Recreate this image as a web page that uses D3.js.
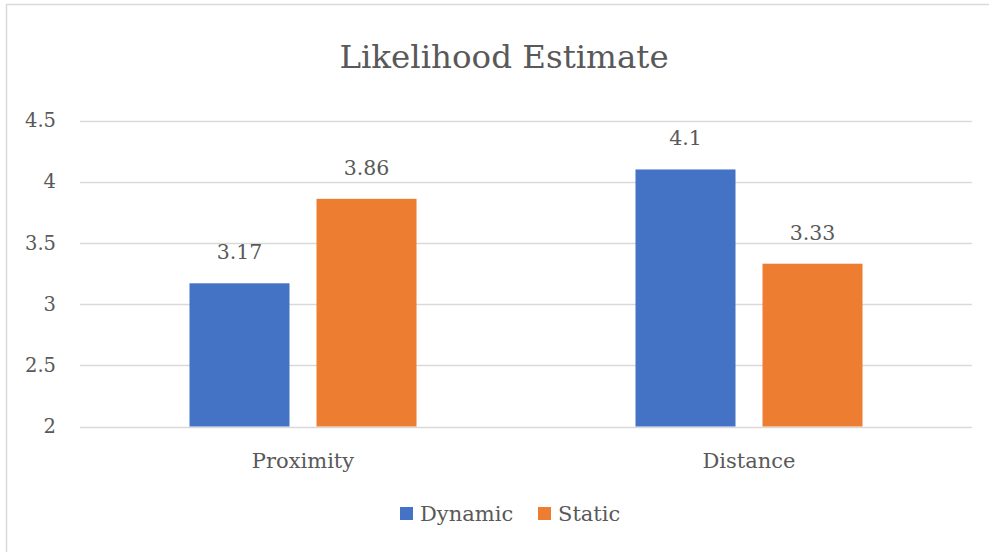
<!DOCTYPE html>
<html><head><meta charset="utf-8">
<script src="https://cdn.jsdelivr.net/npm/d3@7"></script>
<style>body{margin:0;background:#fff}svg{display:block}</style>
</head><body>
<svg id="c" width="989" height="552"></svg>
<script>
const categories = ["Proximity", "Distance"];
const seriesNames = ["Dynamic", "Static"];
const dynamicValues = [3.17, 4.1];
const staticValues = [3.86, 3.33];
const yTicks = [2, 2.5, 3, 3.5, 4, 4.5];
const colors = ["#4472C4", "#ED7D31"];
const title = "Likelihood Estimate";
const FONT = "'DejaVu Serif', serif";
const TXT = "#595959";

const svg = d3.select("#c");
svg.append("rect").attr("x", 6.5).attr("y", 4.5).attr("width", 1100).attr("height", 700)
  .attr("fill", "#fff").attr("stroke", "#D9D9D9").attr("stroke-width", 1.5);

const L = 80, R = 972, T = 120.5, B = 426.5;
const y = d3.scaleLinear().domain([2, 4.5]).range([B, T]);
const x0 = d3.scaleBand().domain(categories).range([L, R]).paddingInner(0.491).paddingOuter(0.2455);
const x1 = d3.scaleBand().domain(seriesNames).range([0, x0.bandwidth()]).paddingInner(0.2126).paddingOuter(0);

svg.append("text").attr("x", 504).attr("y", 68).attr("text-anchor", "middle")
  .style("font-family", FONT).style("fill", TXT).style("font-size", "32.5px").text(title);

const grid = svg.append("g");
grid.selectAll("line").data(yTicks).join("line")
  .attr("x1", L).attr("x2", R).attr("y1", d => Math.round(y(d)) + 0.5).attr("y2", d => Math.round(y(d)) + 0.5)
  .attr("stroke", "#D9D9D9").attr("stroke-width", 1.5);

const yAxis = d3.axisLeft(y).tickValues(yTicks).tickSize(0).tickPadding(0).tickFormat(d => String(d));
const ya = svg.append("g").attr("transform", `translate(56,0)`).call(yAxis);
ya.select(".domain").remove();
ya.selectAll("text").style("font-size", "19.5px").style("fill", TXT).style("font-family", FONT);

const data = categories.map((c, i) => ({cat: c, vals: [dynamicValues[i], staticValues[i]]}));
const groups = svg.selectAll("g.grp").data(data).join("g").attr("class", "grp")
  .attr("transform", d => `translate(${x0(d.cat)},0)`);
groups.selectAll("rect").data(d => d.vals.map((v, j) => ({s: seriesNames[j], v, j}))).join("rect")
  .attr("x", d => x1(d.s)).attr("width", x1.bandwidth())
  .attr("y", d => y(d.v)).attr("height", d => B - y(d.v)).attr("fill", d => colors[d.j]);
groups.selectAll("text").data(d => d.vals.map((v, j) => ({s: seriesNames[j], v, j}))).join("text")
  .attr("x", d => x1(d.s) + x1.bandwidth() / 2).attr("y", d => y(d.v) - 24)
  .attr("text-anchor", "middle").style("font-size", "20.5px").style("fill", TXT).style("font-family", FONT)
  .text(d => String(d.v));

const xAxis = d3.axisBottom(x0).tickSize(0).tickPadding(0);
const xa = svg.append("g").attr("transform", `translate(0,${B})`).call(xAxis);
xa.select(".domain").remove();
xa.selectAll("text").attr("dy", null).attr("y", 41).style("font-size", "21px").style("fill", TXT).style("font-family", FONT);

const legX = [400, 538];
const leg = svg.selectAll("g.leg").data(seriesNames).join("g").attr("class", "leg")
  .attr("transform", (d, i) => `translate(${legX[i]},507)`);
leg.append("rect").attr("width", 13).attr("height", 13).attr("fill", (d, i) => colors[i]);
leg.append("text").attr("x", 20).attr("y", 14).style("font-size", "21px").style("fill", TXT).style("font-family", FONT).text(d => d);
</script>
</body></html>
